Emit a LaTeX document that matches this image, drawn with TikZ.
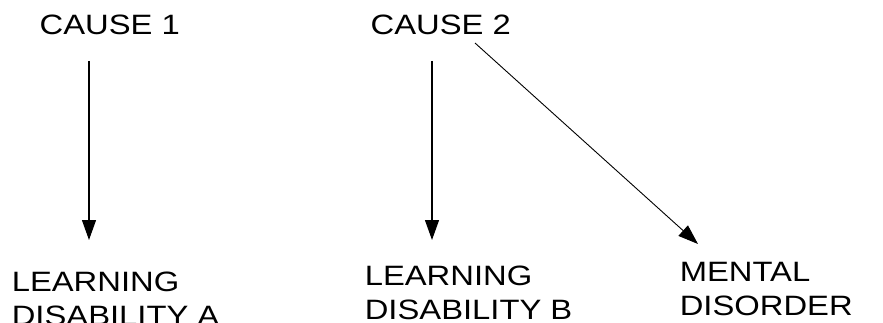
\documentclass[tikz,border=0pt]{standalone}
\usepackage{fontspec}
\setmainfont[FakeStretch=1.17]{Liberation Sans}
\usetikzlibrary{arrows.meta}
\begin{document}
\begin{tikzpicture}[x=1pt,y=-1pt,
  lbl/.style={inner sep=0pt,anchor=north west,align=left,font=\fontsize{28}{34}\selectfont},
  arr/.style={line width=1.2pt,-{Triangle[length=20pt,width=14pt]}},
  thinarr/.style={line width=0.9pt,-{Triangle[length=20pt,width=14pt]}}]
\useasboundingbox (0,0) rectangle (883,323);
\node[lbl] (c1) at (39.5,14.5) {CAUSE 1};
\node[lbl] (c2) at (370.4,14.5) {CAUSE 2};
\node[lbl] (la) at (11.6,272) {LEARNING\\DISABILITY A};
\node[lbl] (lb) at (364.6,266) {LEARNING\\DISABILITY B};
\node[lbl] (md) at (679.6,262.5) {MENTAL\\DISORDER};
\draw[arr] ([shift={(49.5,46.5)}]c1.north west) -- ([shift={(77.4,-32)}]la.north west);
\draw[arr] ([shift={(61.6,46.5)}]c2.north west) -- ([shift={(67.4,-26)}]lb.north west);
\draw[thinarr] ([shift={(104.6,28.5)}]c2.north west) -- ([shift={(18.4,-18.5)}]md.north west);
\end{tikzpicture}
\end{document}
